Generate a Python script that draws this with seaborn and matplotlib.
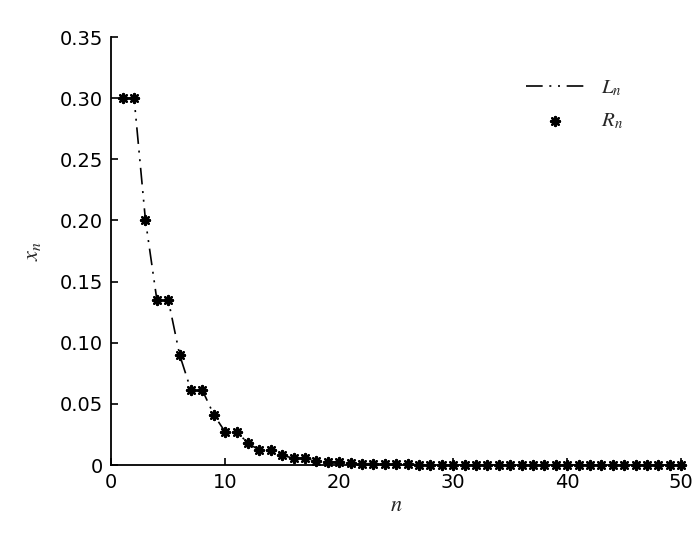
import matplotlib
matplotlib.use('Agg')
import matplotlib.pyplot as plt
import seaborn as sns
import numpy as np
import pandas as pd

# values (n = 1..50)
n = list(range(1, 51))
x_n = [0.300, 0.300, 0.200, 0.135, 0.135, 0.090, 0.061, 0.061, 0.041, 0.027,
       0.027, 0.018, 0.012, 0.012, 0.008, 0.0055, 0.0055, 0.0037, 0.0025, 0.0025,
       0.0017, 0.0011, 0.0011, 0.0007, 0.0005, 0.0005, 0.0003, 0.0002, 0.0002, 0.00015,
       0.0001, 0.0001, 0.00007, 0.00005, 0.00005, 0.00003, 0.00002, 0.00002, 0.00001, 0.00001,
       0.00001, 0.0, 0.0, 0.0, 0.0, 0.0, 0.0, 0.0, 0.0, 0.0]
yticks = [0, 0.05, 0.10, 0.15, 0.20, 0.25, 0.30, 0.35]
ytick_labels = ['0', '0.05', '0.10', '0.15', '0.20', '0.25', '0.30', '0.35']
xticks = [0, 10, 20, 30, 40, 50]

data = pd.DataFrame({'n': n, 'x': x_n})

sns.set_style('ticks')
plt.rcParams['font.family'] = ['DejaVu Sans']
plt.rcParams['mathtext.fontset'] = 'stix'
plt.rcParams['xtick.direction'] = 'in'
plt.rcParams['ytick.direction'] = 'in'

fig = plt.figure(figsize=(7, 5.37), dpi=100)
ax = fig.add_axes([0.159, 0.134, 0.814, 0.797])

# dash-dot-dot line for L_n
sns.lineplot(x='n', y='x', data=data, ax=ax, color='black', linewidth=1.2,
             label=r'$L_n$', dashes=False)
ax.lines[0].set_dashes([10, 4, 1.2, 4, 1.2, 4])
sns.scatterplot(x='n', y='x', data=data, ax=ax, color='black', marker=(8, 2, 0),
                s=42, linewidth=1.7, edgecolor='black', label=r'$R_n$', clip_on=False,
                zorder=3)

ax.set_xlim(0, 50)
ax.set_ylim(0, 0.35)
ax.set_xticks(xticks)
ax.set_xticklabels([str(t) for t in xticks])
ax.set_yticks(yticks)
ax.set_yticklabels(ytick_labels)
ax.tick_params(labelsize=14, length=5, width=1.2, color='black', labelcolor='black', pad=6)
for s in ['left', 'bottom']:
    ax.spines[s].set_linewidth(1.3)
    ax.spines[s].set_color('black')
sns.despine(ax=ax)

ax.set_xlabel(r'$n$', fontsize=16, labelpad=2)
ax.set_ylabel(r'$x_n$', fontsize=16, labelpad=12)

leg = ax.legend(loc='upper right', bbox_to_anchor=(0.93, 0.95), frameon=False,
                fontsize=15, handlelength=2.8, markerfirst=True, labelspacing=0.6)

fig.savefig('out.png', dpi=100)
